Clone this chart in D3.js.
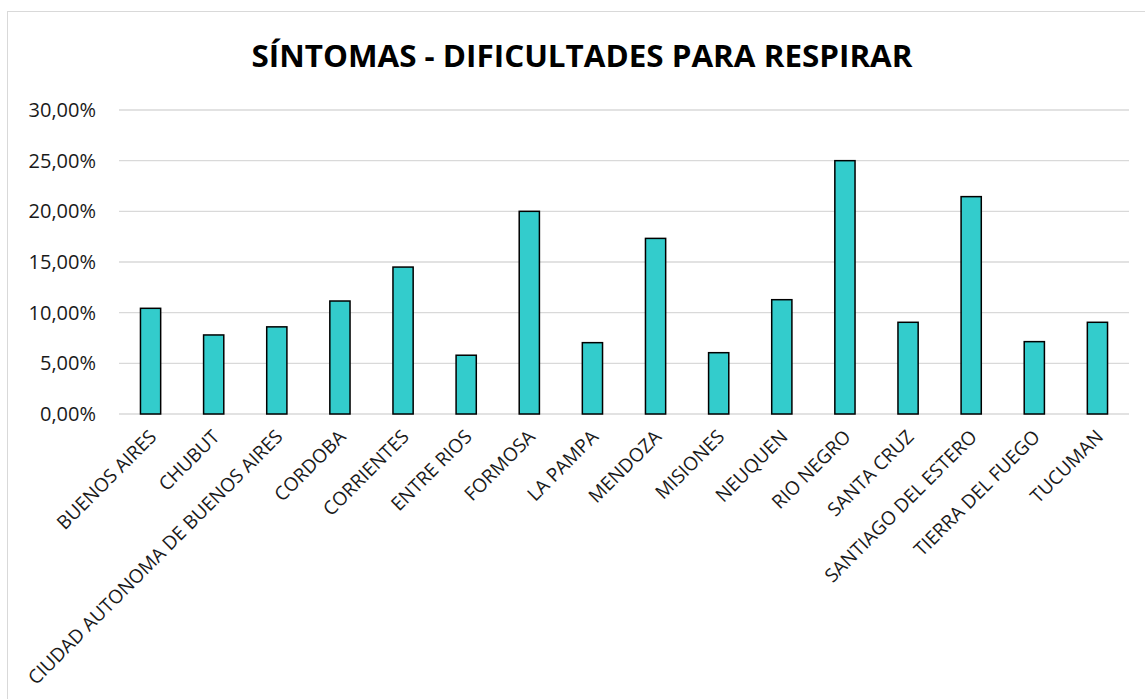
<!DOCTYPE html>
<meta charset="utf-8">
<style>
  body { margin: 0; background: #fff; }
  text { font-family: "Open Sans", sans-serif; fill: #1a1a1a; }
</style>
<body>
<script src="https://d3js.org/d3.v7.min.js"></script>
<script>

// data
var provincias = ["BUENOS AIRES", "CHUBUT", "CIUDAD AUTONOMA DE BUENOS AIRES", "CORDOBA",
  "CORRIENTES", "ENTRE RIOS", "FORMOSA", "LA PAMPA", "MENDOZA", "MISIONES", "NEUQUEN",
  "RIO NEGRO", "SANTA CRUZ", "SANTIAGO DEL ESTERO", "TIERRA DEL FUEGO", "TUCUMAN"];
var porcentajes = [0.1043, 0.078, 0.086, 0.1115, 0.145, 0.058, 0.20, 0.0704, 0.1733,
  0.0605, 0.1128, 0.25, 0.0905, 0.2145, 0.0714, 0.0905];
var yTicks = [0, 0.05, 0.10, 0.15, 0.20, 0.25, 0.30];
var titulo = "SÍNTOMAS - DIFICULTADES PARA RESPIRAR";

var W = 1145, H = 699;
var margin = {top: 110, right: 16, bottom: 285, left: 119},
    width = W - margin.left - margin.right,
    height = H - margin.top - margin.bottom;

var svg = d3.select("body").append("svg")
    .attr("width", W)
    .attr("height", H);

// chart frame
svg.append("rect")
    .attr("x", 7.5).attr("y", 11.5)
    .attr("width", W).attr("height", H)
    .attr("fill", "none")
    .attr("stroke", "#d9d9d9")
    .attr("stroke-width", 1);

svg.append("text")
    .attr("x", 582).attr("y", 67)
    .attr("text-anchor", "middle")
    .attr("font-size", 31)
    .attr("font-weight", "bold")
    .attr("textLength", 661)
    .attr("lengthAdjust", "spacingAndGlyphs")
    .style("fill", "#000")
    .text(titulo);

var g = svg.append("g")
    .attr("transform", `translate(${margin.left},${margin.top})`);

//scales
var x = d3.scaleBand()
    .domain(provincias)
    .range([0, width])
    .paddingInner(0.68)
    .paddingOuter(0.34);

var y = d3.scaleLinear()
    .domain([0, 0.30])
    .range([height, 0]);

var fmt = v => d3.format(".2f")(v * 100).replace(".", ",") + "%";

// gridlines
g.append("g")
  .selectAll("line")
  .data(yTicks)
  .join("line")
    .attr("x1", 0).attr("x2", width)
    .attr("y1", d => y(d)).attr("y2", d => y(d))
    .attr("stroke", "#d9d9d9")
    .attr("stroke-width", 1.3);

// y axis labels
var yAxis = g.append("g")
    .call(d3.axisLeft(y).tickValues(yTicks).tickFormat(fmt).tickSize(0).tickPadding(23));
yAxis.select(".domain").remove();
yAxis.selectAll("text")
    .attr("font-size", 20)
    .attr("font-family", "Open Sans, sans-serif")
    .style("fill", "#1a1a1a");

// bars
g.selectAll(".bar")
  .data(provincias)
  .join("rect")
    .attr("class", "bar")
    .attr("x", d => x(d))
    .attr("y", (d, i) => y(porcentajes[i]))
    .attr("width", x.bandwidth())
    .attr("height", (d, i) => height - y(porcentajes[i]))
    .attr("fill", "#33CCCC")
    .attr("stroke", "#000")
    .attr("stroke-width", 1.5);

// x labels
var xAxis = g.append("g")
    .attr("transform", `translate(0,${height})`)
    .call(d3.axisBottom(x).tickSize(0).tickPadding(0));
xAxis.select(".domain").remove();
xAxis.selectAll("text")
    .attr("font-size", 19)
    .attr("font-family", "Open Sans, sans-serif")
    .style("fill", "#1a1a1a")
    .attr("text-anchor", "end")
    .attr("dy", 0)
    .attr("y", 0)
    .attr("transform", "translate(7,24) rotate(-45)");

</script>
</body>
